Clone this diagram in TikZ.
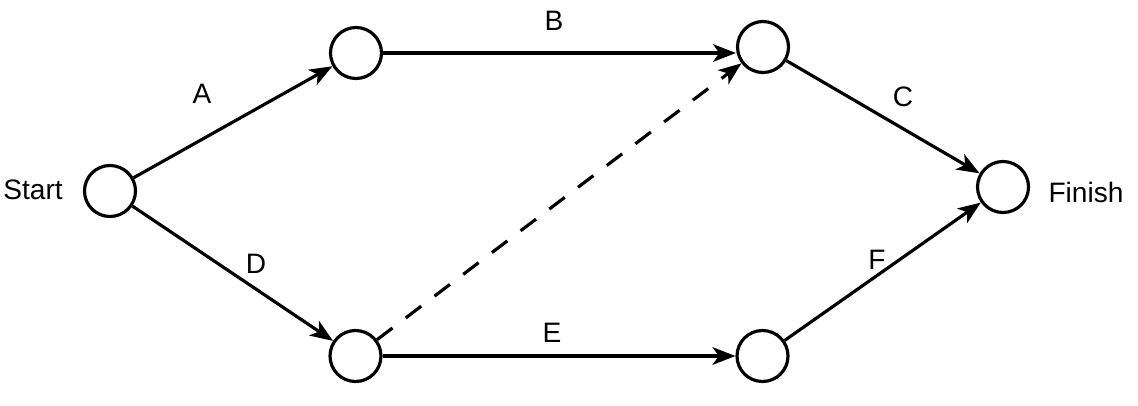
\documentclass[tikz,border=0pt]{standalone}
\usepackage{fontspec}
\setmainfont{Liberation Sans}
\usetikzlibrary{arrows.meta}
\tikzset{
  event/.style={circle, draw=black, line width=1.8pt, minimum size=1.02cm, inner sep=0pt},
  act/.style={line width=1.8pt, -{Stealth[length=13pt,width=10pt,inset=3.5pt]}},
  dummy/.style={act, dash pattern=on 11pt off 9.5pt},
  lbl/.style={font=\fontsize{16}{19}\selectfont, inner sep=0pt}
}
\begin{document}
\begin{tikzpicture}
  \useasboundingbox (0,0) rectangle (22.76,8.1);
  % Events
  \node[event] (start)  at (2.2,4.28)   {};
  \node[event] (top1)   at (7.12,7.04)  {};
  \node[event] (top2)   at (15.26,7.16) {};
  \node[event] (finish) at (20.06,4.36) {};
  \node[event] (bot1)   at (7.11,0.98)  {};
  \node[event] (bot2)   at (15.25,0.98) {};
  % Start / Finish labels
  \node[lbl] (startlbl)  at (0.66,4.30)  {Start};
  \node[lbl] (finishlbl) at (21.72,4.26) {Finish};
  % Activities
  \draw[act] (start) -- (top1);
  \draw[act] (top1.east) -- (top1.east -| top2.west);
  \draw[act] (top2) -- (finish);
  \draw[act] (start) -- (bot1);
  \draw[act] (bot1) -- (bot2);
  \draw[act] (bot2) -- (finish);
  % Dummy activity
  \draw[dummy] (bot1) -- (top2);
  % Activity labels
  \node[lbl] (labA) at (4.04,6.22)  {A};
  \node[lbl] (labB) at (11.08,7.68) {B};
  \node[lbl] (labC) at (18.06,6.16) {C};
  \node[lbl] (labD) at (5.12,2.82)  {D};
  \node[lbl] (labE) at (11.04,1.44) {E};
  \node[lbl] (labF) at (17.54,2.90) {F};
\end{tikzpicture}
\end{document}
